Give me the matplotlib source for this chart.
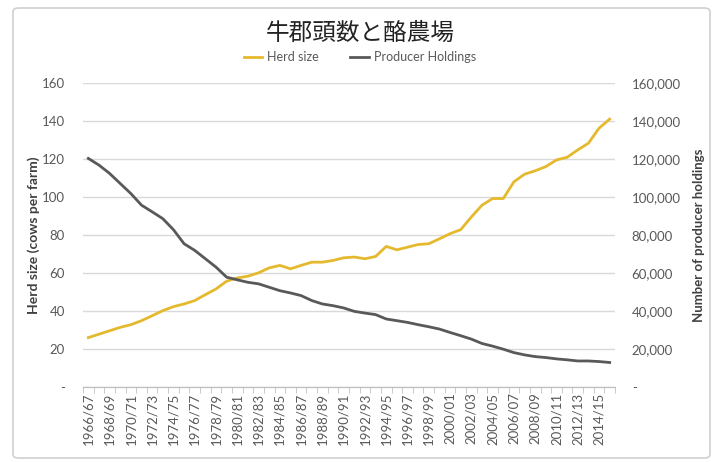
import matplotlib.pyplot as plt
from matplotlib.patches import FancyBboxPatch
from matplotlib.ticker import FuncFormatter

plt.rcParams['font.family'] = ['Lato', 'Noto Sans CJK JP', 'DejaVu Sans']

years = ['%d/%02d' % (y, (y + 1) % 100) for y in range(1966, 2016)]

herd_size = [26.0, 27.8, 29.6, 31.4, 32.8, 34.9, 37.5, 40.2, 42.3, 43.7,
             45.5, 48.6, 51.6, 55.7, 57.4, 58.3, 60.1, 62.7, 64.0, 62.2,
             64.0, 65.7, 65.7, 66.6, 68.0, 68.4, 67.5, 68.7, 74.0, 72.2,
             73.6, 75.0, 75.4, 78.0, 80.7, 82.8, 89.5, 95.7, 99.2, 99.2,
             108.0, 112.0, 113.8, 116.0, 119.5, 120.9, 124.8, 128.3, 136.2, 141.0]

holdings = [120300, 116800, 112400, 107100, 101800, 95700, 92200, 88600, 82800, 75400,
            71900, 67500, 63100, 57800, 56400, 55100, 54300, 52500, 50700, 49500,
            48100, 45500, 43700, 42800, 41600, 39800, 38900, 38100, 35800, 34900,
            34000, 32800, 31700, 30500, 28700, 27000, 25200, 22900, 21500, 19900,
            18100, 16900, 16000, 15500, 14800, 14300, 13700, 13700, 13400, 12900]

yellow = '#E5B92E'
gray = '#595959'
txt = '#595959'

fig = plt.figure(figsize=(7.2, 4.62), dpi=100)
frame = FancyBboxPatch((13 / 720, 4 / 462), 697 / 720, 450 / 462,
                       boxstyle='round,pad=0,rounding_size=0.008',
                       transform=fig.transFigure, fill=False, edgecolor='#d0d0d0', linewidth=1.2)
fig.patches.append(frame)

ax = fig.add_axes([83 / 720, 1 - 387 / 462, (615 - 83) / 720, (387 - 83) / 462])
ax2 = ax.twinx()

x = list(range(len(years)))
l1, = ax.plot(x, herd_size, color=yellow, linewidth=2)
l2, = ax2.plot(x, holdings, color=gray, linewidth=2)

ax.set_xlim(-0.5, len(years) - 0.5)
ax.set_ylim(0, 160)
ax2.set_ylim(0, 160000)
ax.set_yticks(range(0, 161, 20))
ax2.set_yticks(range(0, 160001, 20000))
ax.yaxis.set_major_formatter(FuncFormatter(lambda v, p: '-' if v == 0 else '%d' % v))
ax2.yaxis.set_major_formatter(FuncFormatter(lambda v, p: '-' if v == 0 else '{:,.0f}'.format(v)))

ax.set_xticks(x[::2])
ax.set_xticklabels(years[::2], rotation=90, fontsize=9.5, color=txt)
ax.set_xticks([i - 0.5 for i in range(len(years) + 1)], minor=True)
ax.tick_params(axis='x', which='major', length=0, pad=4)
ax.tick_params(axis='x', which='minor', length=4, color='#bfbfbf')

ax.grid(axis='y', color='#d9d9d9', linewidth=1)
ax.set_axisbelow(True)
for a in (ax, ax2):
    for s in ('top', 'left', 'right'):
        a.spines[s].set_visible(False)
    a.spines['bottom'].set_color('#bfbfbf')
ax.tick_params(axis='y', length=0, labelsize=9.5, labelcolor=txt, pad=13)
ax2.tick_params(axis='y', length=0, labelsize=9.5, labelcolor=txt, pad=12)

ax.set_ylabel('Herd size (cows per farm)', fontsize=10, fontweight='bold', color='#404040', labelpad=1)
ax2.set_ylabel('Number of producer holdings', fontsize=9.5, fontweight='bold', color='#404040', labelpad=9)

fig.text(0.5, 1 - 33 / 462, '牛郡頭数と酪農場', ha='center', va='center', fontsize=17,
         family=['Noto Sans CJK JP', 'DejaVu Sans'], color='#222222')
fig.legend([l1, l2], ['Herd size', 'Producer Holdings'], loc='center', ncol=2,
           bbox_to_anchor=(0.5, 1 - 57 / 462), frameon=False, fontsize=9, labelcolor=txt,
           handlelength=1.5, columnspacing=2.5, handletextpad=0.4)

fig.savefig('out.png', dpi=100)
